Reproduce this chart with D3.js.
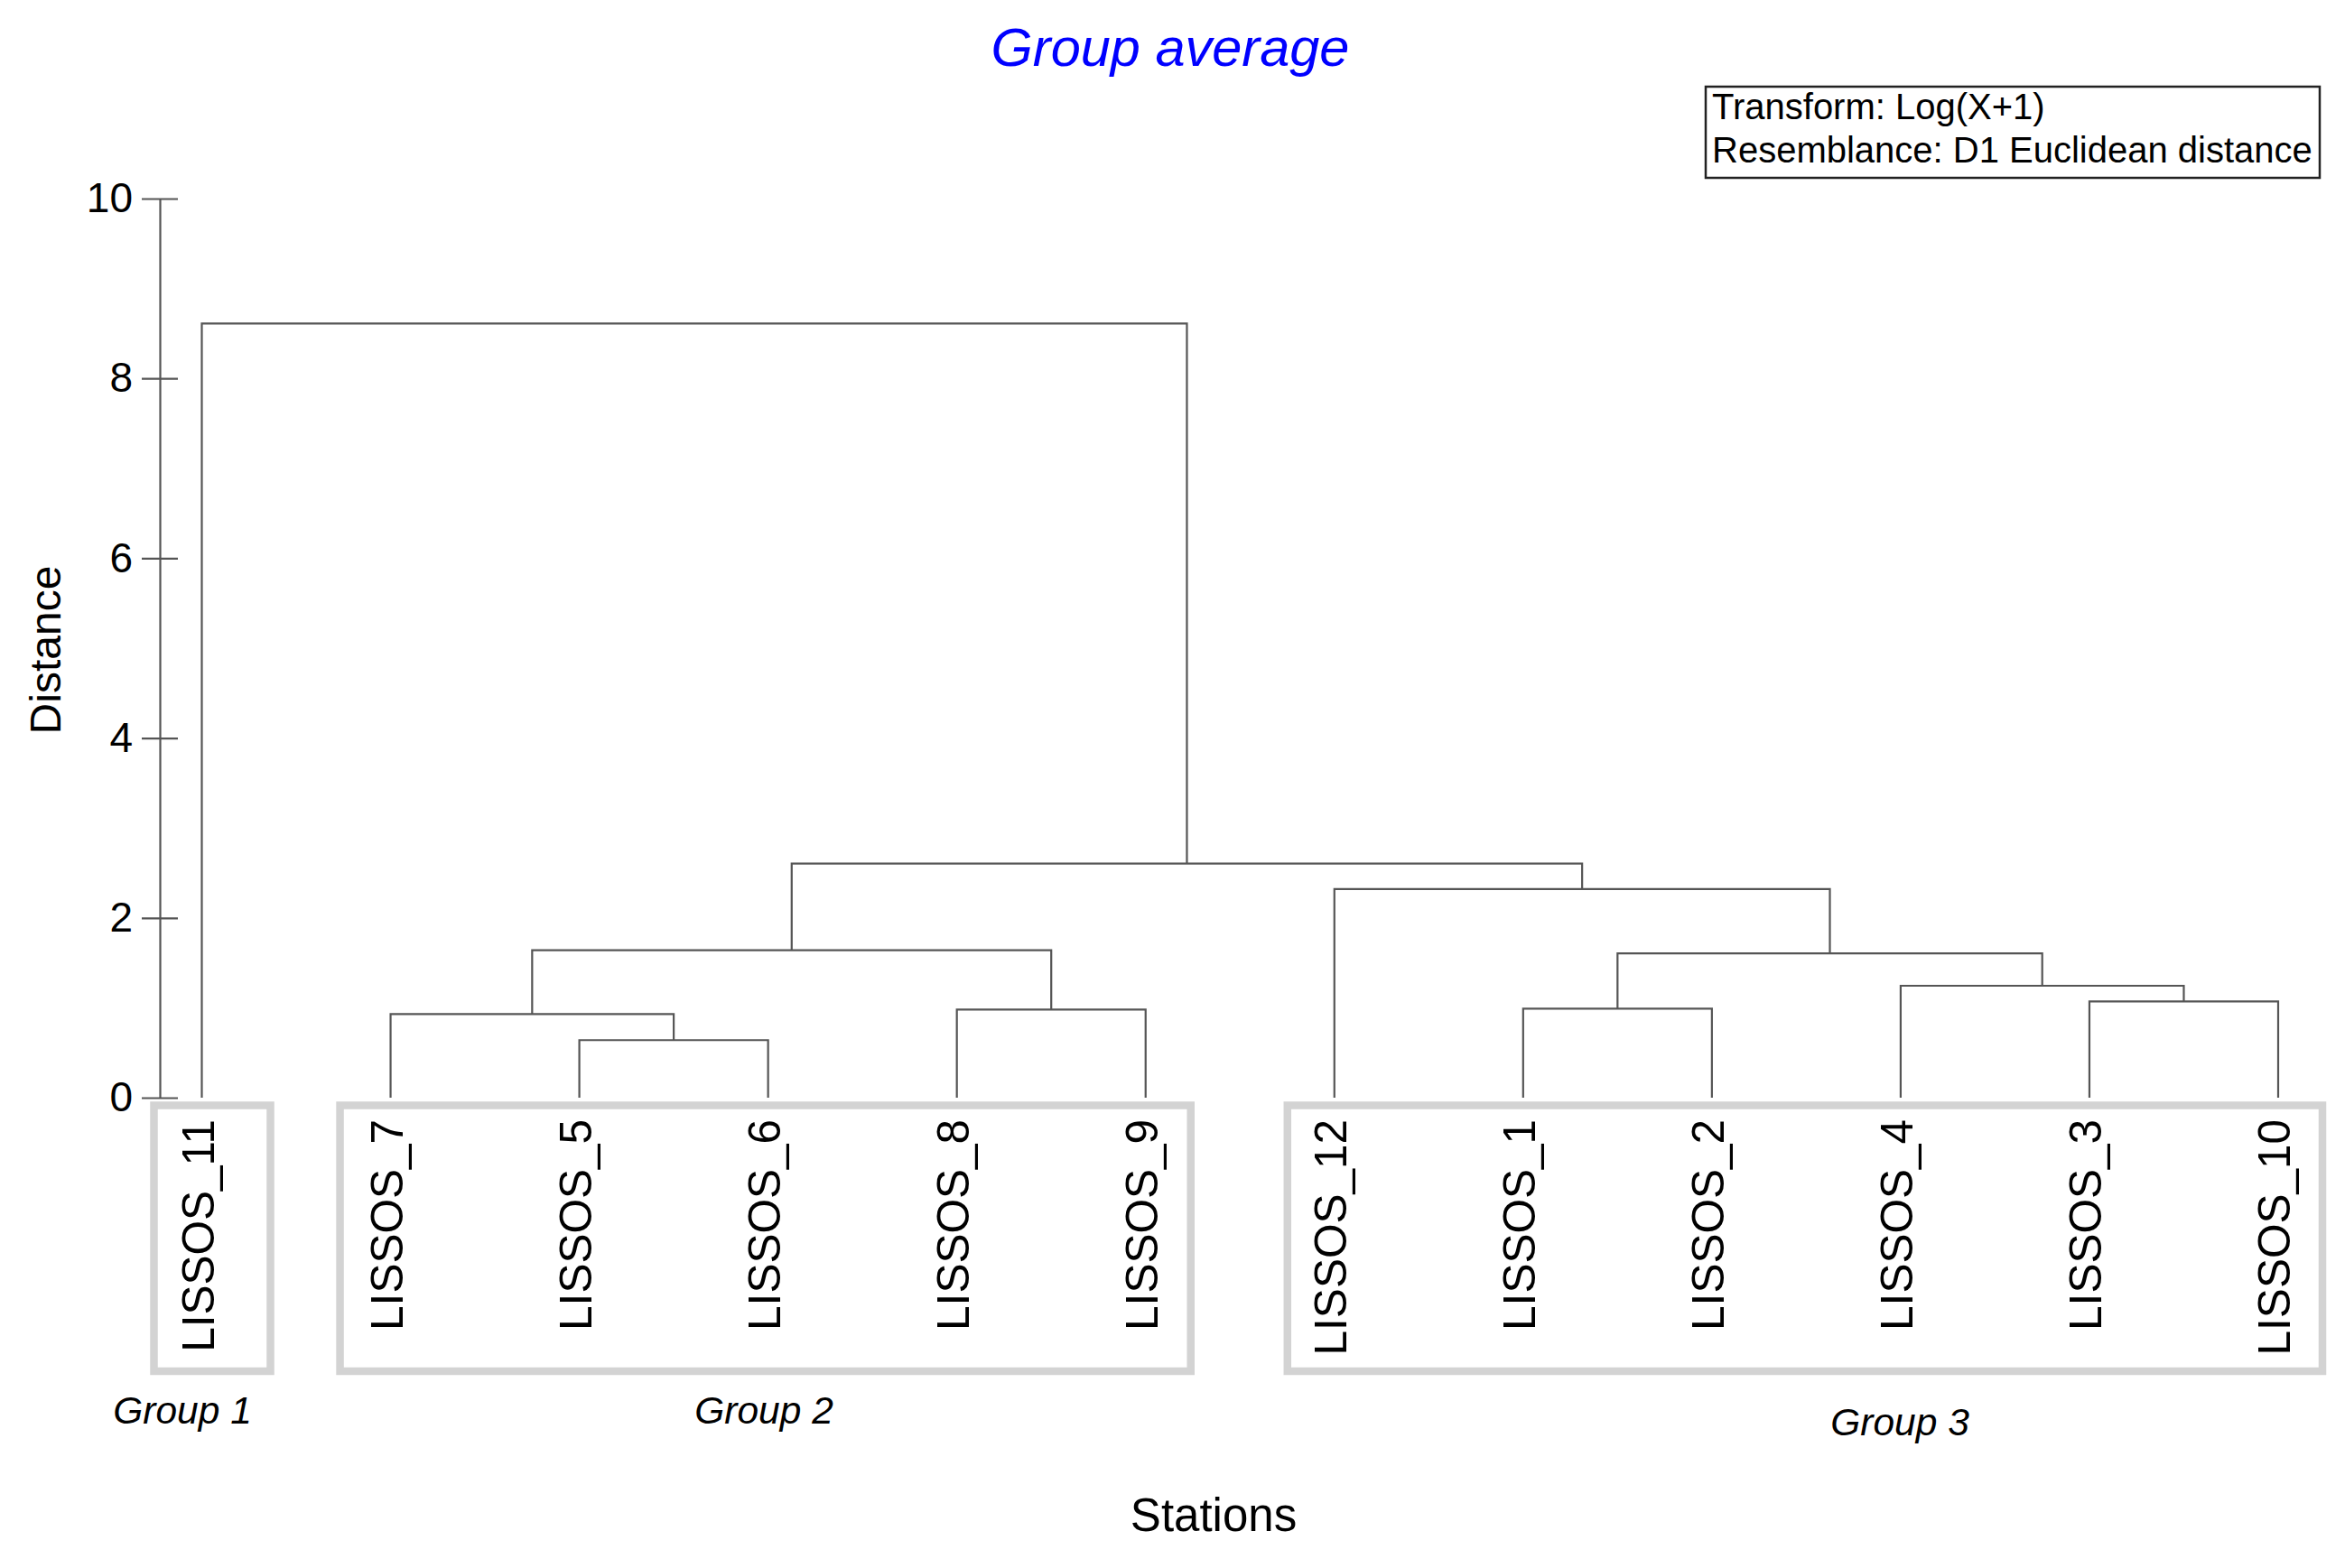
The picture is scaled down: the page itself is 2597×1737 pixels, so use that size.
<!DOCTYPE html>
<html>
<head>
<meta charset="utf-8">
<script src="https://cdn.jsdelivr.net/npm/d3@7"></script>
<style>
  body { margin: 0; background: #fff; }
  svg { display: block; font-family: "Liberation Sans", Arial, Helvetica, sans-serif; }
</style>
</head>
<body>
<svg id="chart" width="2597" height="1737"></svg>
<script>
// leaf order along the bottom
var stations = ["LISSOS_11", "LISSOS_7", "LISSOS_5", "LISSOS_6", "LISSOS_8", "LISSOS_9",
  "LISSOS_12", "LISSOS_1", "LISSOS_2", "LISSOS_4", "LISSOS_3", "LISSOS_10"]

// merges: [left, right, distance]; "#n" means the cluster made by merge n
var merges = [
  ["LISSOS_5", "LISSOS_6", 0.64],
  ["LISSOS_7", "#0", 0.93],
  ["LISSOS_8", "LISSOS_9", 0.98],
  ["#1", "#2", 1.64],
  ["LISSOS_1", "LISSOS_2", 0.99],
  ["LISSOS_3", "LISSOS_10", 1.07],
  ["LISSOS_4", "#5", 1.245],
  ["#4", "#6", 1.605],
  ["LISSOS_12", "#7", 2.32],
  ["#3", "#8", 2.605],
  ["LISSOS_11", "#9", 8.61]
]

var yTicks = [0, 2, 4, 6, 8, 10]

var groupNames = ["Group 1", "Group 2", "Group 3"]
var groupMembers = [
  ["LISSOS_11"],
  ["LISSOS_7", "LISSOS_5", "LISSOS_6", "LISSOS_8", "LISSOS_9"],
  ["LISSOS_12", "LISSOS_1", "LISSOS_2", "LISSOS_4", "LISSOS_3", "LISSOS_10"]
]

var infoLines = ["Transform: Log(X+1)", "Resemblance: D1 Euclidean distance"]

// layout bits (not data)
var boxPad = [[53, 76], [56, 50], [52, 49]]
var groupLabelPos = [[202, 1577], [846, 1577], [2104, 1590]]
var lineColor = "#555"

var svg = d3.select("#chart")

var x = d3.scalePoint().domain(stations).range([223.5, 2523])
var y = d3.scaleLinear().domain([0, 10]).range([1216, 220])

// build the tree
function nodeFor(ref, built) {
  if (ref[0] == "#") return built[+ref.slice(1)]
  return { name: ref, h: 0 }
}
var built = []
merges.forEach(function (m) {
  built.push({ h: m[2], children: [nodeFor(m[0], built), nodeFor(m[1], built)] })
})
var root = d3.hierarchy(built[built.length - 1])
root.eachAfter(function (n) {
  if (!n.children) n.x = x(n.data.name)
  else n.x = d3.mean(n.children, function (c) { return c.x })
})

// group boxes
svg.append("g").selectAll("rect")
  .data(groupMembers)
  .enter().append("rect")
  .attr("x", function (d, i) { return x(d[0]) - boxPad[i][0] })
  .attr("width", function (d, i) { return x(d[d.length - 1]) + boxPad[i][1] - (x(d[0]) - boxPad[i][0]) })
  .attr("y", 1224.5)
  .attr("height", 294.5)
  .attr("fill", "none")
  .attr("stroke", "#d3d3d3")
  .attr("stroke-width", 8.5)

// dendrogram links
var internal = root.descendants().filter(function (n) { return n.children })
svg.append("g").selectAll("path")
  .data(internal)
  .enter().append("path")
  .attr("d", function (n) {
    var a = n.children[0], b = n.children[1]
    return "M" + a.x + "," + y(a.data.h) + "V" + y(n.data.h) + "H" + b.x + "V" + y(b.data.h)
  })
  .attr("fill", "none")
  .attr("stroke", lineColor)
  .attr("stroke-width", 2.2)

// y axis
var axis = svg.append("g")
  .attr("transform", "translate(177,0)")
  .call(d3.axisLeft(y).tickValues(yTicks).tickSize(20).tickSizeOuter(0).tickPadding(10))
axis.select(".domain").attr("stroke", lineColor).attr("stroke-width", 2.2)
axis.selectAll(".tick line").attr("x1", 20).attr("stroke", lineColor).attr("stroke-width", 2.2)
axis.selectAll(".tick text")
  .attr("font-size", 46)
  .attr("fill", "#000")
  .attr("font-family", "Liberation Sans, Arial, sans-serif")

// leaf labels
svg.append("g").selectAll("text")
  .data(stations)
  .enter().append("text")
  .attr("transform", function (d) { return "translate(" + (x(d) + 13) + ",1240) rotate(-90)" })
  .attr("text-anchor", "end")
  .attr("font-size", 49.5)
  .attr("fill", "#000")
  .text(function (d) { return d })

// group labels
svg.append("g").selectAll("text")
  .data(groupNames)
  .enter().append("text")
  .attr("x", function (d, i) { return groupLabelPos[i][0] })
  .attr("y", function (d, i) { return groupLabelPos[i][1] })
  .attr("text-anchor", "middle")
  .attr("font-size", 42.5)
  .attr("font-style", "italic")
  .attr("fill", "#000")
  .text(function (d) { return d })

// title
svg.append("text")
  .attr("x", 1296).attr("y", 73)
  .attr("text-anchor", "middle")
  .attr("font-size", 59.5)
  .attr("font-style", "italic")
  .attr("fill", "#0000ff")
  .text("Group average")

// info box
svg.append("rect")
  .attr("x", 1889).attr("y", 96)
  .attr("width", 680).attr("height", 101)
  .attr("fill", "#fff")
  .attr("stroke", "#222")
  .attr("stroke-width", 2.5)
svg.append("g").selectAll("text")
  .data(infoLines)
  .enter().append("text")
  .attr("x", 1896)
  .attr("y", function (d, i) { return 132 + i * 48 })
  .attr("font-size", 40)
  .attr("fill", "#000")
  .text(function (d) { return d })

// axis titles
svg.append("text")
  .attr("transform", "translate(67,720) rotate(-90)")
  .attr("text-anchor", "middle")
  .attr("font-size", 48)
  .attr("fill", "#000")
  .text("Distance")

svg.append("text")
  .attr("x", 1344).attr("y", 1696)
  .attr("text-anchor", "middle")
  .attr("font-size", 51)
  .attr("fill", "#000")
  .text("Stations")
</script>
</body>
</html>
